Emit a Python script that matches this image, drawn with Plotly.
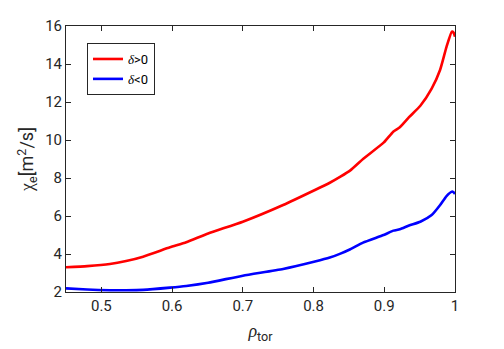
import plotly.graph_objects as go

# radial coordinate
rho = [0.45, 0.48, 0.512, 0.535, 0.559, 0.597, 0.62, 0.651, 0.70, 0.757,
       0.802, 0.823, 0.838, 0.852, 0.870, 0.899, 0.913, 0.922, 0.935, 0.951,
       0.967, 0.979, 0.988, 0.9955, 0.998, 1.0]

# chi_e for positive triangularity
chi_pos = [3.30, 3.36, 3.47, 3.63, 3.86, 4.35, 4.62, 5.08, 5.70, 6.58,
           7.37, 7.75, 8.07, 8.40, 9.00, 9.86, 10.45, 10.67, 11.20, 11.80,
           12.70, 13.70, 14.90, 15.70, 15.65, 15.44]

# chi_e for negative triangularity
chi_neg = [2.19, 2.13, 2.09, 2.09, 2.11, 2.23, 2.32, 2.49, 2.86, 3.21,
           3.60, 3.81, 4.02, 4.25, 4.60, 5.00, 5.23, 5.30, 5.50, 5.70,
           6.05, 6.58, 7.05, 7.28, 7.25, 7.16]

x_ticks = [0.5, 0.6, 0.7, 0.8, 0.9, 1.0]
x_ticklabels = ["0.5", "0.6", "0.7", "0.8", "0.9", "1"]
y_ticks = [2, 4, 6, 8, 10, 12, 14, 16]

delta = "<span style='font-family:Liberation Serif'><i>δ</i></span>"

fig = go.Figure()
fig.add_trace(go.Scatter(x=rho, y=chi_pos, mode="lines",
                         line=dict(color="#ff0000", width=2.6, shape="spline", smoothing=0.5),
                         name=delta + "&gt;0"))
fig.add_trace(go.Scatter(x=rho, y=chi_neg, mode="lines",
                         line=dict(color="#0000ff", width=2.6, shape="spline", smoothing=0.5),
                         name=delta + "&lt;0"))

axis_style = dict(showline=True, linecolor="#262626", linewidth=1, mirror="ticks",
                  ticks="inside", ticklen=5, tickcolor="#262626", showgrid=False,
                  zeroline=False, tickfont=dict(family="Roboto", size=15, color="#262626"))

fig.update_xaxes(range=[0.45, 1.0], tickvals=x_ticks, ticktext=x_ticklabels,
                 title=dict(text="<span style='font-family:Liberation Serif'><i>ρ</i></span><sub>tor</sub>",
                            font=dict(family="Roboto", size=18, color="#262626"), standoff=10),
                 **axis_style)
fig.update_yaxes(range=[2, 16], tickvals=y_ticks,
                 title=dict(text="<span style='font-family:Liberation Serif'>χ</span><sub>e</sub>[m<sup>2</sup>/s]",
                            font=dict(family="Roboto", size=18, color="#262626"), standoff=6),
                 **axis_style)

fig.update_layout(
    width=504, height=349,
    margin=dict(l=66, r=49, t=26, b=57),
    plot_bgcolor="white", paper_bgcolor="white",
    legend=dict(x=0.054, y=0.936, xanchor="left", yanchor="top",
                bgcolor="white", bordercolor="#262626", borderwidth=1,
                font=dict(family="Roboto", size=13, color="#000000"),
                itemwidth=30, tracegroupgap=0),
    showlegend=True,
)

fig.write_html("out.html", config={"displayModeBar": False},
               post_script="document.body.style.margin='0px';")
